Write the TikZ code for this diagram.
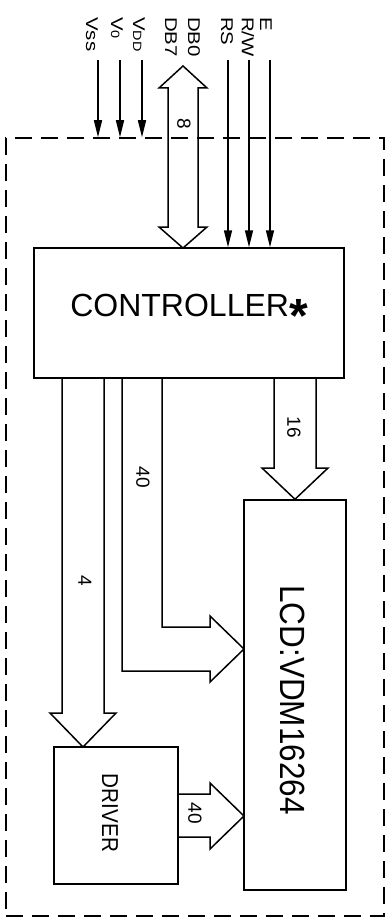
\documentclass[tikz,border=0pt]{standalone}
\usepackage{fontspec}
\setmainfont{Liberation Sans}
\usetikzlibrary{arrows.meta}
\begin{document}
\begin{tikzpicture}[x=1pt, y=-1pt,
	box/.style={rectangle, draw, line width=1.5pt, inner sep=0pt},
	sig/.style={line width=1.5pt, -{Triangle[length=17pt, width=8pt]}},
	bus/.style={line width=1.5pt, line join=miter},
	pin/.style={rotate=-90, xscale=1.2, anchor=west, inner sep=0pt, font=\fontsize{17}{17}\selectfont},
	num/.style={rotate=-90, inner sep=0pt, font=\fontsize{19}{19}\selectfont}]
		\useasboundingbox (0,0) rectangle (390,923);

		% blocks
		\node[rectangle, draw, line width=1.5pt, dash pattern=on 17pt off 9pt, minimum width=378pt, minimum height=778pt](frame) at (195,527){};
		\node[box, minimum width=310pt, minimum height=130pt](ctrl) at (189,313){\fontsize{32}{32}\selectfont CONTROLLER{\fontsize{48}{48}\selectfont\bfseries\raisebox{-0.34em}{*}}};
		\node[box, minimum width=102pt, minimum height=390pt](lcd) at (295,695){};
		\node[box, minimum width=124pt, minimum height=137pt](drv) at (116,815.5){};
		\node[rotate=-90, inner sep=0pt, font=\fontsize{35}{35}\selectfont, xscale=0.9](lcdText) at (293,700){LCD:VDM16264};
		\node[rotate=-90, inner sep=0pt, font=\fontsize{23}{23}\selectfont, xscale=0.9](drvText) at (110,813){DRIVER};

		% pin names
		\node[pin](vss) at (92,17){Vss};
		\node[pin](vo) at (117,17){V{\fontsize{12}{12}\selectfont 0}};
		\node[pin](vdd) at (139,17){V{\fontsize{12}{12}\selectfont DD}};
		\node[pin](db7) at (171,17){DB7};
		\node[pin](db0) at (194,17){DB0};
		\node[pin](rs) at (227,17){RS};
		\node[pin](rw) at (248,17){R/W};
		\node[pin](e) at (266,17){E};

		\coordinate (vssIn) at (98,60);
		\coordinate (voIn) at (120,60);
		\coordinate (vddIn) at (142,60);
		\coordinate (rsIn) at (228,60);
		\coordinate (rwIn) at (249,60);
		\coordinate (eIn) at (270,60);

		% single lines
		\draw[sig] (vssIn) -- (vssIn |- frame.north);
		\draw[sig] (voIn) -- (voIn |- frame.north);
		\draw[sig] (vddIn) -- (vddIn |- frame.north);
		\draw[sig] (rsIn) -- (rsIn |- ctrl.north);
		\draw[sig] (rwIn) -- (rwIn |- ctrl.north);
		\draw[sig] (eIn) -- (eIn |- ctrl.north);

		% buses
		\draw[bus] (183,66) -- (207,88) -- (198,88) -- (198,227) -- (207,227) -- (183,248) -- (159,227) -- (168,227) -- (168,88) -- (159,88) -- cycle;
		\draw[bus] (274,378) -- (274,468) -- (262,468) -- (lcd.north) -- (328,468) -- (316,468) -- (316,378);
		\draw[bus] (62,378) -- (62,713) -- (50,713) -- (83,747) -- (116,713) -- (104,713) -- (104,378);
		\draw[bus] (162,378) -- (162,627) -- (210,627) -- (210,616) -- (244,649) -- (210,682) -- (210,671) -- (122,671) -- (122,378);
		\draw[bus] (178,794) -- (210,794) -- (210,783) -- (244,816) -- (210,849) -- (210,837) -- (178,837);

		% bus widths
		\node[num](w8) at (184,124){8};
		\node[num](w16) at (294,427){16};
		\node[num](w40a) at (143,477){40};
		\node[num](w4) at (85,581){4};
		\node[num](w40b) at (195,813){40};

	\end{tikzpicture}
\end{document}
